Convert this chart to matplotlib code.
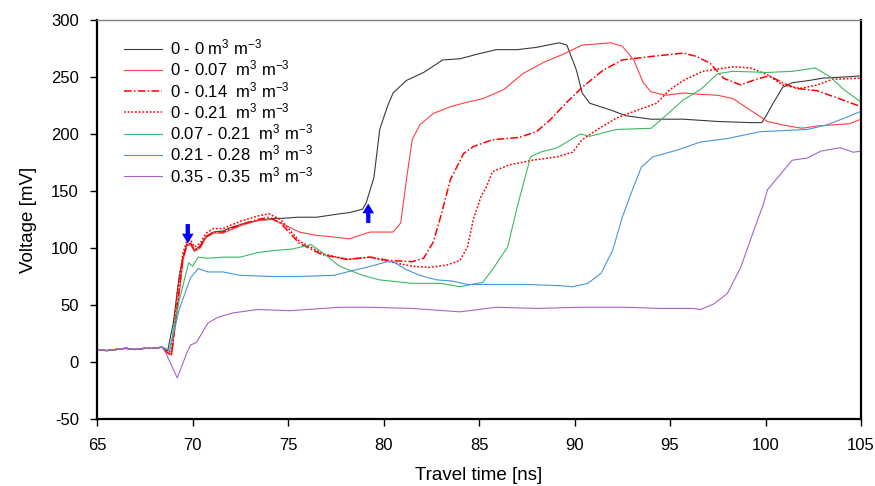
import matplotlib
matplotlib.use('Agg')
import matplotlib.pyplot as plt

plt.rcParams['font.family'] = ['Liberation Sans', 'DejaVu Sans']
plt.rcParams['mathtext.fontset'] = 'custom'
plt.rcParams['mathtext.rm'] = 'Liberation Sans'
plt.rcParams['mathtext.default'] = 'regular'
plt.rcParams['axes.unicode_minus'] = False

# baseline before the pulse arrives (shared by all traces)
t_base = [65.0, 65.5, 66.0, 66.5, 67.0, 67.5, 68.0, 68.4]
v_base = [11, 10, 11, 12, 11, 12, 12, 13]

# 0 - 0
t_00 = [68.7, 69.0, 69.3, 69.5, 69.7, 69.9, 70.1, 70.4, 70.7, 71.1, 71.6, 72.0, 72.6, 73.4,
        74.2, 74.7, 75.5, 76.5, 77.7, 78.2, 78.9, 79.1, 79.5, 79.8, 80.2, 80.5, 81.2, 82.1,
        83.1, 84.0, 84.9, 85.9, 87.0, 88.0, 88.9, 89.2, 89.6, 90.1, 90.4, 90.8, 91.9, 92.7,
        94.0, 95.7, 97.5, 99.2, 99.8, 100.0, 100.4, 100.9, 101.4, 102.3, 103.0, 104.1, 105.0]
v_00 = [10, 35, 75, 92, 103, 104, 98, 102, 110, 114, 115, 118, 121, 124,
        126, 126, 127, 127, 130, 131, 134, 140, 162, 204, 224, 236, 247, 254,
        265, 266, 270, 274, 274, 276, 279, 280, 278, 256, 236, 227, 221, 216,
        213, 213, 211, 210, 210, 215, 227, 241, 245, 247, 249, 250, 251]

# 0 - 0.07
t_007 = [68.7, 68.9, 69.2, 69.5, 69.7, 69.9, 70.1, 70.4, 70.7, 71.1, 71.6, 72.0, 72.6, 73.4,
         74.2, 74.6, 75.6, 76.5, 77.2, 78.2, 79.3, 80.5, 80.9, 81.2, 81.5, 81.9, 82.6, 83.5,
         84.4, 85.2, 86.3, 87.3, 88.4, 89.4, 90.4, 91.9, 92.5, 93.1, 93.6, 94.0, 94.8, 95.7,
         96.4, 97.5, 98.3, 99.2, 100.1, 100.9, 101.9, 102.7, 103.5, 104.4, 105.0]
v_007 = [8, 6, 45, 89, 102, 103, 97, 100, 109, 113, 113, 116, 120, 124,
         125, 122, 114, 111, 110, 108, 114, 114, 122, 160, 195, 208, 218, 224,
         228, 231, 239, 253, 263, 270, 278, 280, 277, 265, 245, 237, 234, 236,
         235, 234, 231, 221, 211, 208, 205, 207, 208, 209, 213]

# 0 - 0.14
t_014 = [68.7, 68.9, 69.2, 69.5, 69.7, 69.9, 70.1, 70.4, 70.7, 71.1, 71.6, 72.0, 72.6, 73.4,
         74.0, 74.6, 75.6, 76.8, 78.1, 79.3, 80.3, 81.5, 82.1, 82.6, 83.0, 83.5, 84.2, 84.7,
         85.7, 87.1, 88.0, 88.7, 89.6, 90.4, 91.5, 92.5, 94.0, 95.7, 96.4, 97.1, 97.8, 98.7,
         99.5, 100.2, 100.9, 101.6, 102.7, 103.7, 105.0]
v_014 = [8, 6, 50, 91, 103, 104, 98, 101, 110, 114, 114, 117, 121, 125,
         127, 122, 104, 94, 90, 92, 89, 88, 91, 105, 128, 160, 183, 189,
         195, 197, 202, 212, 228, 241, 256, 265, 268, 271, 268, 262, 249, 243,
         248, 251, 245, 240, 238, 232, 224]

# 0 - 0.21
t_021 = [68.7, 68.9, 69.2, 69.5, 69.7, 69.9, 70.1, 70.4, 70.7, 71.1, 71.6, 72.0, 72.6, 73.4,
         74.0, 74.6, 75.6, 76.8, 78.1, 79.3, 80.3, 81.5, 82.4, 83.3, 84.0, 84.4, 84.7, 85.1,
         85.4, 85.7, 86.6, 87.8, 89.1, 89.9, 90.4, 91.2, 92.2, 93.3, 94.3, 95.0, 95.7, 96.7,
         98.3, 99.2, 100.1, 100.9, 101.8, 102.7, 103.5, 105.0]
v_021 = [10, 8, 60, 96, 106, 107, 101, 104, 113, 117, 117, 120, 124, 128,
         130, 125, 106, 95, 90, 92, 88, 84, 83, 85, 89, 101, 125, 145,
         154, 167, 173, 177, 180, 184, 195, 204, 214, 221, 227, 239, 247, 255,
         259, 258, 252, 243, 240, 243, 248, 249]

# 0.07 - 0.21
t_g = [68.8, 69.3, 69.8, 70.0, 70.3, 70.8, 71.6, 72.5, 73.4, 74.4, 75.2, 76.2, 76.8, 77.7,
       78.9, 79.8, 81.5, 83.0, 84.0, 85.2, 85.7, 86.5, 87.0, 87.3, 87.7, 88.2, 89.1, 90.3,
       90.8, 92.2, 94.0, 94.5, 95.7, 96.6, 97.5, 98.3, 100.1, 101.4, 102.6, 103.4, 104.1, 105.0]
v_g = [10, 54, 87, 84, 92, 91, 92, 92, 96, 98, 99, 103, 96, 84,
       76, 72, 69, 69, 66, 70, 81, 101, 136, 155, 180, 184, 188, 200,
       198, 204, 205, 212, 230, 239, 253, 255, 254, 255, 258, 250, 239, 228]

# 0.21 - 0.28
t_b = [68.8, 69.3, 69.9, 70.0, 70.3, 70.8, 71.6, 72.5, 74.2, 75.5, 77.4, 78.1, 79.1, 80.2,
       80.5, 81.2, 81.9, 82.8, 83.6, 84.4, 85.7, 87.5, 89.2, 89.9, 90.7, 91.4, 92.0, 92.5,
       93.1, 93.5, 94.1, 95.4, 96.6, 98.0, 99.7, 102.2, 103.2, 104.3, 105.0]
v_b = [10, 46, 74, 76, 82, 79, 79, 76, 75, 75, 76, 79, 83, 88,
       88, 81, 76, 72, 71, 68, 68, 68, 67, 66, 69, 78, 98, 127,
       154, 171, 180, 186, 193, 196, 202, 204, 208, 215, 220]

# 0.35 - 0.35
t_p = [68.6, 69.2, 69.7, 69.9, 70.2, 70.8, 71.3, 72.1, 73.4, 75.1, 77.7, 79.3, 81.5, 84.0,
       85.9, 88.0, 90.3, 92.7, 94.5, 96.2, 96.6, 97.3, 98.0, 98.7, 99.4, 99.9, 100.1, 100.6,
       101.4, 102.2, 102.9, 103.9, 104.6, 105.0]
v_p = [8, -14, 8, 15, 17, 34, 39, 43, 46, 45, 48, 48, 47, 44,
       48, 47, 48, 48, 47, 47, 46, 51, 60, 83, 116, 139, 151, 161,
       177, 179, 185, 188, 184, 185]

labels = ['0 - 0 m$^{3}$ m$^{-3}$',
          '0 - 0.07  m$^{3}$ m$^{-3}$',
          '0 - 0.14  m$^{3}$ m$^{-3}$',
          '0 - 0.21  m$^{3}$ m$^{-3}$',
          '0.07 - 0.21  m$^{3}$ m$^{-3}$',
          '0.21 - 0.28  m$^{3}$ m$^{-3}$',
          '0.35 - 0.35  m$^{3}$ m$^{-3}$']

series = [(t_00, v_00, '#3a3a3a', '-', 0.8),
          (t_007, v_007, '#ff4040', '-', 0.8),
          (t_014, v_014, '#ff0000', (0, (5, 1.5, 1, 1.5)), 1.1),
          (t_021, v_021, '#ff0000', (0, (1.2, 1.2)), 1.1),
          (t_g, v_g, '#3cb865', '-', 0.8),
          (t_b, v_b, '#4a95d6', '-', 0.8),
          (t_p, v_p, '#a663c8', '-', 0.8)]

fig = plt.figure(figsize=(8.75, 4.86), dpi=100)
ax = fig.add_axes([0.1109, 0.1379, 0.8731, 0.8209])

for (t, v, c, ls, lw), lab in zip(series, labels):
    ax.plot(t_base + t, v_base + v, color=c, linestyle=ls, linewidth=lw, label=lab)

# blue arrows
arrow_style = 'simple,head_width=0.6,head_length=0.5,tail_width=0.22'
ax.annotate('', xy=(69.75, 104), xytext=(69.75, 121),
            arrowprops=dict(arrowstyle=arrow_style, color='#0000ff', lw=0,
                            mutation_scale=14, shrinkA=0, shrinkB=0))
ax.annotate('', xy=(79.2, 139), xytext=(79.2, 122),
            arrowprops=dict(arrowstyle=arrow_style, color='#0000ff', lw=0,
                            mutation_scale=14, shrinkA=0, shrinkB=0))

ax.set_xlim(65, 105)
ax.set_ylim(-50, 300)
ax.set_xticks(range(65, 106, 5))
ax.set_yticks(range(-50, 301, 50))
ax.tick_params(axis='x', direction='out', length=5, width=1, labelsize=12, pad=9)
ax.tick_params(axis='y', direction='out', length=5, width=1, labelsize=12, pad=8)
ax.set_xlabel('Travel time [ns]', fontsize=13.5, labelpad=10)
ax.set_ylabel('Voltage [mV]', fontsize=13.5, labelpad=10)

for s in ['left', 'bottom', 'right']:
    ax.spines[s].set_linewidth(1.6)
    ax.spines[s].set_color('black')
ax.spines['top'].set_linewidth(1.0)
ax.spines['top'].set_color('#808080')

ax.legend(loc='upper left', bbox_to_anchor=(0.02, 0.985), frameon=False, fontsize=12,
          handlelength=2.3, handletextpad=0.45, labelspacing=0.08, borderaxespad=0.3)

plt.savefig('out.png', dpi=100)
